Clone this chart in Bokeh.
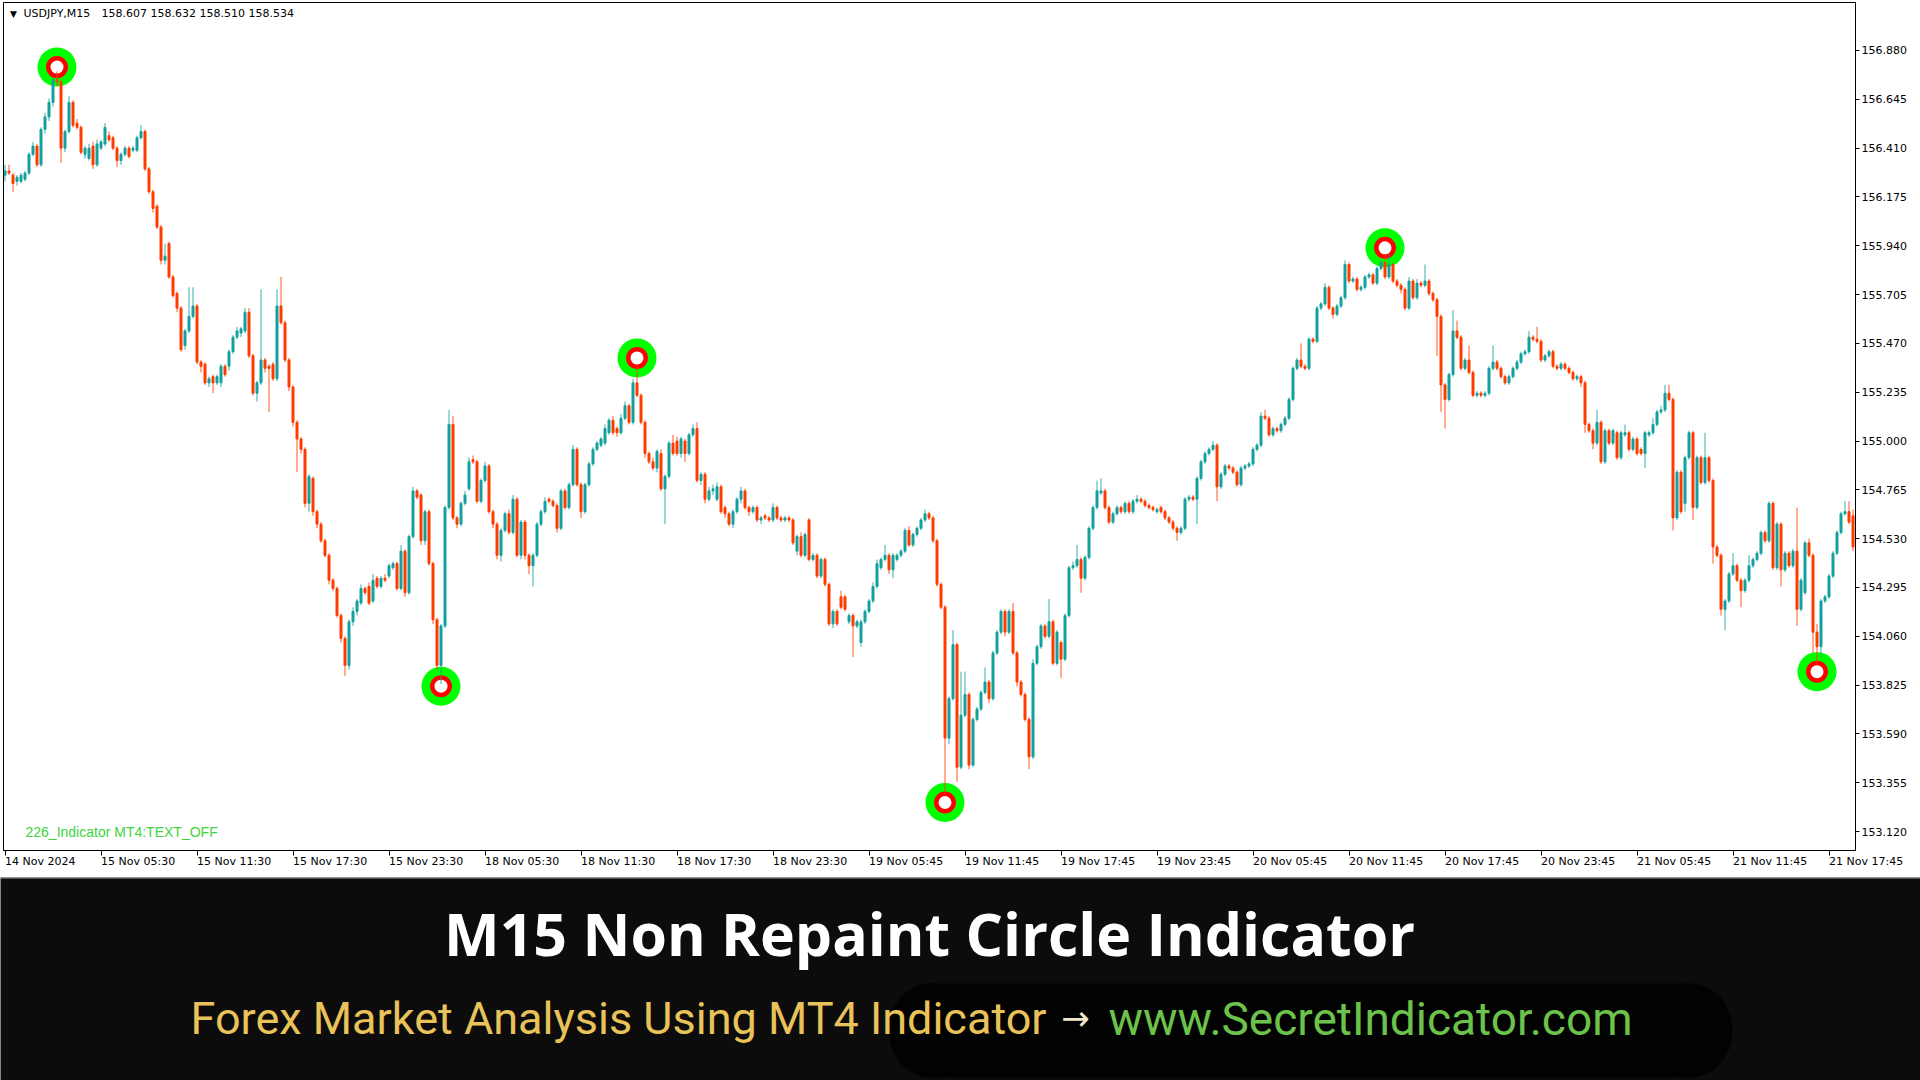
from bokeh.plotting import figure
from bokeh.models import (Range1d, LinearAxis, FixedTicker, NumeralTickFormatter,
                          Label, ColumnDataSource, Span)
from bokeh.layouts import column
from bokeh.embed import file_html
from bokeh.resources import INLINE
from bokeh.core.properties import value

# ---------------- texts ----------------
symbol_text = "USDJPY,M15"
header_ohlc = "158.607 158.632 158.510 158.534"
indicator_text = "226_Indicator MT4:TEXT_OFF"
title_text = "M15 Non Repaint Circle Indicator"
sub_left = "Forex Market Analysis Using MT4 Indicator"
sub_arrow = "\u2192"
sub_right = "www.SecretIndicator.com"

# ---------------- candle data (USDJPY M15) ----------------
opens = [
    156.28, 156.30, 156.28, 156.25, 156.25, 156.26, 156.29, 156.38, 156.42, 156.33,
    156.50, 156.56, 156.63, 156.74, 156.73, 156.41, 156.49, 156.63, 156.53, 156.51,
    156.38, 156.36, 156.42, 156.33, 156.41, 156.43, 156.47, 156.46, 156.41, 156.35,
    156.38, 156.41, 156.40, 156.40, 156.46, 156.49, 156.31, 156.20, 156.13, 156.03,
    155.87, 155.95, 155.79, 155.71, 155.64, 155.46, 155.53, 155.60, 155.65, 155.38,
    155.37, 155.28, 155.31, 155.28, 155.28, 155.36, 155.36, 155.43, 155.50, 155.52,
    155.53, 155.62, 155.41, 155.23, 155.28, 155.39, 155.36, 155.37, 155.30, 155.65,
    155.57, 155.39, 155.26, 155.09, 155.01, 154.96, 154.70, 154.82, 154.66, 154.60,
    154.52, 154.45, 154.33, 154.29, 154.16, 154.05, 153.92, 154.13, 154.18, 154.22,
    154.29, 154.30, 154.23, 154.34, 154.30, 154.34, 154.35, 154.39, 154.41, 154.29,
    154.47, 154.27, 154.54, 154.76, 154.74, 154.52, 154.66, 154.41, 154.14, 153.92,
    154.11, 154.68, 155.08, 154.63, 154.60, 154.70, 154.77, 154.91, 154.90, 154.71,
    154.81, 154.88, 154.66, 154.60, 154.45, 154.57, 154.65, 154.56, 154.72, 154.45,
    154.61, 154.45, 154.40, 154.45, 154.60, 154.66, 154.72, 154.71, 154.69, 154.58,
    154.76, 154.68, 154.79, 154.96, 154.79, 154.66, 154.79, 154.89, 154.96, 154.98,
    154.99, 155.04, 155.10, 155.06, 155.04, 155.11, 155.17, 155.09, 155.28, 155.22,
    155.09, 154.94, 154.90, 154.87, 154.94, 154.77, 154.83, 154.99, 155.00, 154.94,
    155.00, 154.94, 155.03, 155.06, 154.81, 154.84, 154.72, 154.76, 154.72, 154.78,
    154.68, 154.65, 154.60, 154.66, 154.72, 154.76, 154.68, 154.66, 154.68, 154.62,
    154.64, 154.63, 154.62, 154.68, 154.63, 154.62, 154.63, 154.62, 154.47, 154.54,
    154.45, 154.62, 154.43, 154.45, 154.35, 154.43, 154.31, 154.12, 154.18, 154.25,
    154.25, 154.13, 154.16, 154.11, 154.03, 154.13, 154.18, 154.23, 154.30, 154.39,
    154.43, 154.45, 154.38, 154.43, 154.45, 154.47, 154.57, 154.50, 154.55, 154.58,
    154.62, 154.65, 154.63, 154.52, 154.31, 154.20, 153.57, 153.76, 154.02, 153.43,
    153.68, 153.78, 153.44, 153.66, 153.71, 153.79, 153.84, 153.76, 153.98, 154.08,
    154.18, 154.08, 154.18, 153.98, 153.84, 153.78, 153.66, 153.48, 153.93, 154.01,
    154.11, 154.06, 154.13, 153.93, 154.03, 153.95, 154.16, 154.39, 154.40, 154.43,
    154.34, 154.44, 154.58, 154.68, 154.75, 154.76, 154.68, 154.61, 154.65, 154.68,
    154.66, 154.70, 154.66, 154.71, 154.72, 154.71, 154.69, 154.68, 154.66, 154.68,
    154.66, 154.63, 154.61, 154.58, 154.56, 154.58, 154.72, 154.73, 154.72, 154.82,
    154.90, 154.94, 154.96, 154.98, 154.78, 154.84, 154.88, 154.87, 154.85, 154.79,
    154.87, 154.88, 154.89, 154.96, 154.98, 155.12, 155.11, 155.03, 155.06, 155.05,
    155.08, 155.11, 155.20, 155.35, 155.39, 155.36, 155.35, 155.49, 155.48, 155.64,
    155.66, 155.74, 155.64, 155.61, 155.65, 155.69, 155.85, 155.77, 155.78, 155.73,
    155.74, 155.79, 155.80, 155.76, 155.83, 155.86, 155.79, 155.85, 155.77, 155.75,
    155.73, 155.64, 155.77, 155.69, 155.76, 155.75, 155.77, 155.71, 155.68, 155.60,
    155.27, 155.20, 155.32, 155.53, 155.50, 155.35, 155.39, 155.33, 155.22, 155.23,
    155.22, 155.23, 155.35, 155.38, 155.35, 155.31, 155.28, 155.31, 155.35, 155.38,
    155.42, 155.43, 155.50, 155.49, 155.48, 155.39, 155.41, 155.43, 155.36, 155.35,
    155.37, 155.35, 155.33, 155.30, 155.31, 155.28, 155.08, 155.05, 154.99, 155.09,
    154.90, 155.05, 154.99, 155.04, 154.92, 155.03, 155.04, 154.96, 155.01, 154.96,
    154.94, 155.03, 155.04, 155.08, 155.14, 155.15, 155.23, 155.20, 154.63, 154.85,
    154.70, 154.92, 155.04, 154.68, 154.92, 154.80, 154.92, 154.81, 154.49, 154.45,
    154.19, 154.23, 154.36, 154.40, 154.33, 154.28, 154.33, 154.40, 154.43, 154.46,
    154.56, 154.52, 154.70, 154.39, 154.60, 154.38, 154.46, 154.40, 154.47, 154.19,
    154.27, 154.51, 154.45, 154.08, 154.01, 154.23, 154.25, 154.35, 154.46, 154.56,
    154.65, 154.66, 154.64,
]
highs = [
    156.33, 156.33, 156.29, 156.28, 156.29, 156.30, 156.39, 156.44, 156.43, 156.51,
    156.58, 156.65, 156.75, 156.78, 156.74, 156.50, 156.66, 156.64, 156.55, 156.52,
    156.42, 156.43, 156.44, 156.45, 156.45, 156.53, 156.49, 156.47, 156.42, 156.39,
    156.42, 156.42, 156.42, 156.47, 156.52, 156.50, 156.32, 156.21, 156.14, 156.04,
    155.95, 155.96, 155.80, 155.72, 155.65, 155.54, 155.74, 155.74, 155.66, 155.39,
    155.38, 155.31, 155.32, 155.32, 155.37, 155.37, 155.44, 155.51, 155.55, 155.55,
    155.64, 155.64, 155.42, 155.29, 155.73, 155.40, 155.37, 155.38, 155.73, 155.79,
    155.58, 155.40, 155.27, 155.10, 155.02, 154.97, 154.84, 154.83, 154.67, 154.61,
    154.53, 154.46, 154.34, 154.30, 154.17, 154.06, 154.14, 154.20, 154.24, 154.31,
    154.30, 154.32, 154.36, 154.35, 154.35, 154.36, 154.41, 154.42, 154.42, 154.50,
    154.48, 154.55, 154.78, 154.77, 154.75, 154.67, 154.67, 154.42, 154.15, 154.12,
    154.69, 155.15, 155.12, 154.64, 154.71, 154.76, 154.92, 154.93, 154.91, 154.82,
    154.90, 154.89, 154.67, 154.61, 154.58, 154.66, 154.67, 154.74, 154.73, 154.62,
    154.62, 154.46, 154.46, 154.61, 154.67, 154.73, 154.73, 154.72, 154.70, 154.77,
    154.77, 154.80, 154.98, 154.97, 154.80, 154.80, 154.90, 154.97, 155.00, 155.02,
    155.08, 155.11, 155.12, 155.07, 155.13, 155.19, 155.18, 155.30, 155.36, 155.23,
    155.10, 154.95, 154.92, 154.96, 154.96, 154.84, 155.00, 155.03, 155.02, 155.02,
    155.01, 155.04, 155.08, 155.09, 154.85, 154.85, 154.78, 154.79, 154.80, 154.79,
    154.69, 154.66, 154.67, 154.73, 154.78, 154.77, 154.69, 154.69, 154.69, 154.64,
    154.65, 154.64, 154.70, 154.69, 154.64, 154.64, 154.64, 154.63, 154.55, 154.56,
    154.56, 154.63, 154.46, 154.46, 154.44, 154.44, 154.32, 154.19, 154.19, 154.28,
    154.26, 154.17, 154.17, 154.14, 154.14, 154.19, 154.24, 154.32, 154.43, 154.44,
    154.50, 154.46, 154.46, 154.46, 154.48, 154.58, 154.59, 154.56, 154.59, 154.63,
    154.67, 154.66, 154.64, 154.53, 154.32, 154.21, 153.77, 154.09, 154.03, 153.89,
    153.89, 153.79, 153.67, 153.72, 153.80, 153.91, 153.85, 153.99, 154.09, 154.19,
    154.19, 154.19, 154.22, 153.99, 153.85, 153.79, 153.67, 153.95, 154.02, 154.12,
    154.12, 154.24, 154.14, 154.09, 154.04, 154.17, 154.40, 154.42, 154.50, 154.44,
    154.45, 154.59, 154.69, 154.81, 154.82, 154.77, 154.69, 154.66, 154.69, 154.69,
    154.71, 154.71, 154.72, 154.74, 154.73, 154.72, 154.70, 154.69, 154.68, 154.69,
    154.67, 154.64, 154.62, 154.59, 154.59, 154.73, 154.74, 154.74, 154.83, 154.91,
    154.95, 154.97, 155.00, 154.99, 154.85, 154.89, 154.89, 154.88, 154.86, 154.88,
    154.89, 154.90, 154.97, 154.99, 155.14, 155.15, 155.12, 155.07, 155.07, 155.09,
    155.12, 155.21, 155.36, 155.40, 155.47, 155.37, 155.50, 155.50, 155.65, 155.67,
    155.76, 155.75, 155.65, 155.66, 155.70, 155.87, 155.86, 155.79, 155.79, 155.75,
    155.80, 155.81, 155.81, 155.84, 155.87, 155.90, 155.90, 155.86, 155.78, 155.76,
    155.74, 155.79, 155.78, 155.78, 155.77, 155.85, 155.78, 155.72, 155.69, 155.61,
    155.28, 155.33, 155.63, 155.58, 155.51, 155.40, 155.46, 155.34, 155.24, 155.24,
    155.24, 155.36, 155.46, 155.39, 155.36, 155.32, 155.32, 155.36, 155.39, 155.43,
    155.44, 155.53, 155.51, 155.55, 155.49, 155.42, 155.44, 155.44, 155.37, 155.38,
    155.38, 155.36, 155.34, 155.32, 155.32, 155.29, 155.09, 155.06, 155.15, 155.10,
    155.06, 155.06, 155.06, 155.05, 155.05, 155.08, 155.05, 155.02, 155.02, 154.97,
    155.05, 155.05, 155.11, 155.15, 155.17, 155.27, 155.27, 155.21, 154.86, 154.86,
    154.93, 155.05, 155.05, 154.93, 154.93, 155.04, 154.93, 154.82, 154.50, 154.46,
    154.24, 154.37, 154.46, 154.41, 154.34, 154.34, 154.45, 154.44, 154.47, 154.57,
    154.57, 154.71, 154.71, 154.61, 154.61, 154.47, 154.47, 154.48, 154.68, 154.34,
    154.52, 154.53, 154.46, 154.12, 154.24, 154.26, 154.36, 154.47, 154.57, 154.66,
    154.71, 154.71, 154.67,
]
lows = [
    156.25, 156.28, 156.20, 156.23, 156.24, 156.25, 156.28, 156.37, 156.32, 156.32,
    156.48, 156.54, 156.61, 156.71, 156.34, 156.39, 156.48, 156.51, 156.50, 156.38,
    156.36, 156.35, 156.31, 156.32, 156.40, 156.42, 156.44, 156.40, 156.32, 156.33,
    156.37, 156.36, 156.39, 156.39, 156.45, 156.30, 156.19, 156.10, 156.02, 155.85,
    155.85, 155.78, 155.69, 155.62, 155.43, 155.44, 155.52, 155.59, 155.37, 155.33,
    155.27, 155.26, 155.23, 155.27, 155.26, 155.31, 155.34, 155.42, 155.49, 155.50,
    155.52, 155.40, 155.22, 155.19, 155.27, 155.33, 155.14, 155.29, 155.29, 155.56,
    155.38, 155.24, 155.07, 154.85, 154.94, 154.68, 154.66, 154.64, 154.58, 154.51,
    154.44, 154.31, 154.28, 154.15, 154.03, 153.87, 153.90, 154.11, 154.16, 154.21,
    154.26, 154.21, 154.22, 154.29, 154.29, 154.32, 154.34, 154.38, 154.28, 154.28,
    154.25, 154.26, 154.53, 154.72, 154.50, 154.50, 154.40, 154.12, 153.90, 153.83,
    154.10, 154.67, 154.62, 154.58, 154.59, 154.69, 154.76, 154.89, 154.70, 154.70,
    154.80, 154.65, 154.58, 154.43, 154.42, 154.56, 154.55, 154.55, 154.44, 154.43,
    154.43, 154.36, 154.30, 154.44, 154.59, 154.65, 154.70, 154.68, 154.56, 154.57,
    154.67, 154.67, 154.78, 154.78, 154.63, 154.65, 154.78, 154.88, 154.95, 154.97,
    154.98, 155.03, 155.03, 155.02, 155.03, 155.10, 155.08, 155.08, 155.21, 155.08,
    154.92, 154.89, 154.86, 154.85, 154.76, 154.60, 154.82, 154.93, 154.93, 154.92,
    154.90, 154.93, 155.02, 154.80, 154.79, 154.70, 154.71, 154.74, 154.71, 154.65,
    154.63, 154.59, 154.58, 154.65, 154.70, 154.67, 154.64, 154.65, 154.61, 154.60,
    154.62, 154.61, 154.61, 154.62, 154.61, 154.61, 154.61, 154.50, 154.45, 154.44,
    154.44, 154.42, 154.42, 154.34, 154.34, 154.30, 154.11, 154.10, 154.11, 154.19,
    154.18, 154.12, 153.96, 154.10, 154.01, 154.12, 154.17, 154.22, 154.29, 154.38,
    154.42, 154.36, 154.34, 154.42, 154.44, 154.46, 154.49, 154.49, 154.54, 154.57,
    154.61, 154.62, 154.51, 154.30, 154.19, 153.30, 153.54, 153.75, 153.36, 153.42,
    153.67, 153.42, 153.43, 153.65, 153.70, 153.78, 153.74, 153.75, 153.97, 154.07,
    154.06, 154.07, 153.97, 153.82, 153.77, 153.65, 153.42, 153.47, 153.92, 154.00,
    154.05, 154.05, 153.92, 153.92, 153.86, 153.94, 154.15, 154.38, 154.39, 154.27,
    154.33, 154.43, 154.57, 154.67, 154.74, 154.67, 154.60, 154.60, 154.64, 154.65,
    154.65, 154.65, 154.65, 154.70, 154.70, 154.68, 154.67, 154.66, 154.65, 154.65,
    154.62, 154.60, 154.57, 154.52, 154.55, 154.57, 154.71, 154.71, 154.60, 154.81,
    154.89, 154.93, 154.95, 154.71, 154.77, 154.83, 154.86, 154.84, 154.78, 154.78,
    154.86, 154.87, 154.88, 154.95, 154.97, 155.10, 155.02, 155.02, 155.04, 155.04,
    155.07, 155.10, 155.19, 155.34, 155.35, 155.34, 155.34, 155.47, 155.47, 155.63,
    155.65, 155.63, 155.59, 155.60, 155.64, 155.68, 155.76, 155.76, 155.72, 155.72,
    155.73, 155.78, 155.75, 155.75, 155.82, 155.78, 155.78, 155.76, 155.74, 155.71,
    155.63, 155.63, 155.68, 155.68, 155.74, 155.74, 155.70, 155.67, 155.41, 155.14,
    155.06, 155.19, 155.31, 155.49, 155.34, 155.34, 155.32, 155.21, 155.21, 155.21,
    155.21, 155.22, 155.34, 155.34, 155.30, 155.27, 155.27, 155.30, 155.34, 155.37,
    155.41, 155.42, 155.48, 155.47, 155.38, 155.38, 155.40, 155.35, 155.34, 155.34,
    155.34, 155.32, 155.29, 155.29, 155.26, 155.04, 155.04, 154.96, 154.98, 154.89,
    154.89, 154.98, 154.98, 154.91, 154.91, 155.02, 154.95, 154.95, 154.93, 154.93,
    154.87, 155.02, 155.03, 155.07, 155.13, 155.14, 155.19, 154.57, 154.62, 154.65,
    154.66, 154.91, 154.62, 154.67, 154.79, 154.79, 154.80, 154.41, 154.44, 154.16,
    154.09, 154.22, 154.35, 154.32, 154.20, 154.27, 154.32, 154.39, 154.42, 154.45,
    154.51, 154.51, 154.38, 154.38, 154.30, 154.37, 154.39, 154.39, 154.11, 154.18,
    154.26, 154.44, 153.98, 153.92, 153.96, 154.22, 154.24, 154.34, 154.45, 154.55,
    154.64, 154.60, 154.47,
]
closes = [
    156.30, 156.29, 156.24, 156.27, 156.28, 156.29, 156.38, 156.42, 156.33, 156.50,
    156.56, 156.63, 156.74, 156.73, 156.41, 156.49, 156.63, 156.52, 156.51, 156.39,
    156.41, 156.41, 156.33, 156.43, 156.44, 156.51, 156.45, 156.41, 156.35, 156.38,
    156.41, 156.37, 156.41, 156.46, 156.49, 156.31, 156.20, 156.12, 156.03, 155.87,
    155.89, 155.79, 155.70, 155.64, 155.44, 155.53, 155.60, 155.65, 155.38, 155.36,
    155.28, 155.30, 155.28, 155.31, 155.36, 155.32, 155.43, 155.50, 155.53, 155.54,
    155.62, 155.41, 155.23, 155.28, 155.39, 155.35, 155.35, 155.30, 155.65, 155.57,
    155.39, 155.26, 155.09, 155.01, 154.96, 154.70, 154.83, 154.66, 154.60, 154.52,
    154.45, 154.33, 154.29, 154.16, 154.05, 153.92, 154.13, 154.18, 154.23, 154.29,
    154.27, 154.22, 154.33, 154.30, 154.34, 154.33, 154.40, 154.41, 154.29, 154.47,
    154.27, 154.54, 154.76, 154.73, 154.52, 154.66, 154.41, 154.14, 153.92, 154.11,
    154.68, 155.08, 154.63, 154.60, 154.70, 154.74, 154.90, 154.90, 154.71, 154.81,
    154.88, 154.66, 154.60, 154.45, 154.57, 154.65, 154.56, 154.72, 154.45, 154.61,
    154.45, 154.40, 154.45, 154.60, 154.66, 154.71, 154.71, 154.69, 154.58, 154.76,
    154.68, 154.79, 154.96, 154.79, 154.66, 154.79, 154.89, 154.96, 154.99, 155.01,
    155.06, 155.10, 155.04, 155.04, 155.11, 155.17, 155.09, 155.28, 155.22, 155.09,
    154.94, 154.90, 154.87, 154.95, 154.77, 154.83, 154.99, 154.94, 154.94, 155.01,
    154.94, 155.03, 155.06, 154.81, 154.84, 154.72, 154.76, 154.77, 154.78, 154.66,
    154.65, 154.60, 154.66, 154.72, 154.76, 154.68, 154.66, 154.68, 154.62, 154.63,
    154.63, 154.62, 154.68, 154.63, 154.62, 154.63, 154.62, 154.51, 154.54, 154.45,
    154.55, 154.43, 154.45, 154.35, 154.43, 154.31, 154.12, 154.18, 154.12, 154.20,
    154.19, 154.16, 154.11, 154.13, 154.13, 154.18, 154.23, 154.30, 154.41, 154.43,
    154.45, 154.38, 154.45, 154.45, 154.47, 154.57, 154.50, 154.55, 154.58, 154.62,
    154.65, 154.63, 154.52, 154.31, 154.20, 153.57, 153.76, 154.02, 153.43, 153.68,
    153.78, 153.44, 153.66, 153.71, 153.79, 153.84, 153.76, 153.98, 154.08, 154.18,
    154.08, 154.18, 153.98, 153.84, 153.78, 153.66, 153.48, 153.93, 154.01, 154.11,
    154.06, 154.13, 153.93, 154.08, 153.95, 154.16, 154.39, 154.40, 154.43, 154.34,
    154.44, 154.58, 154.68, 154.76, 154.76, 154.68, 154.61, 154.65, 154.68, 154.66,
    154.70, 154.66, 154.71, 154.72, 154.71, 154.69, 154.68, 154.67, 154.67, 154.66,
    154.63, 154.61, 154.58, 154.56, 154.58, 154.72, 154.73, 154.72, 154.82, 154.90,
    154.94, 154.96, 154.98, 154.78, 154.84, 154.88, 154.87, 154.85, 154.79, 154.87,
    154.88, 154.89, 154.96, 154.98, 155.12, 155.11, 155.03, 155.06, 155.05, 155.08,
    155.11, 155.20, 155.35, 155.39, 155.36, 155.35, 155.49, 155.48, 155.64, 155.66,
    155.74, 155.64, 155.61, 155.65, 155.69, 155.85, 155.77, 155.78, 155.73, 155.74,
    155.79, 155.80, 155.76, 155.83, 155.86, 155.79, 155.85, 155.77, 155.75, 155.73,
    155.64, 155.77, 155.69, 155.76, 155.75, 155.77, 155.71, 155.68, 155.60, 155.27,
    155.20, 155.32, 155.53, 155.50, 155.35, 155.39, 155.33, 155.22, 155.23, 155.22,
    155.23, 155.35, 155.38, 155.35, 155.31, 155.28, 155.31, 155.35, 155.38, 155.42,
    155.43, 155.50, 155.49, 155.48, 155.39, 155.41, 155.43, 155.36, 155.35, 155.37,
    155.35, 155.33, 155.30, 155.31, 155.28, 155.08, 155.05, 154.99, 155.09, 154.90,
    155.05, 154.99, 155.05, 154.92, 155.04, 155.04, 154.96, 155.01, 154.94, 154.94,
    155.04, 155.04, 155.08, 155.14, 155.15, 155.23, 155.20, 154.63, 154.85, 154.66,
    154.92, 155.04, 154.68, 154.92, 154.80, 154.92, 154.81, 154.49, 154.45, 154.19,
    154.23, 154.36, 154.40, 154.33, 154.28, 154.33, 154.40, 154.43, 154.46, 154.56,
    154.52, 154.70, 154.39, 154.60, 154.38, 154.46, 154.40, 154.47, 154.19, 154.33,
    154.51, 154.45, 154.08, 154.01, 154.23, 154.25, 154.35, 154.46, 154.56, 154.65,
    154.66, 154.61, 154.49,
]

# circle indicator signals (bar index, price of the circle centre)
signal_bars = [13, 109, 158, 235, 345, 453]
signal_prices = [156.80, 153.82, 155.40, 153.26, 155.93, 153.89]

# axes
time_tick_bars = [0, 24, 48, 72, 96, 120, 144, 168, 192, 216,
                  240, 264, 288, 312, 336, 360, 384, 408, 432, 456]
time_tick_labels = ["14 Nov 2024", "15 Nov 05:30", "15 Nov 11:30", "15 Nov 17:30",
                    "15 Nov 23:30", "18 Nov 05:30", "18 Nov 11:30", "18 Nov 17:30",
                    "18 Nov 23:30", "19 Nov 05:45", "19 Nov 11:45", "19 Nov 17:45",
                    "19 Nov 23:45", "20 Nov 05:45", "20 Nov 11:45", "20 Nov 17:45",
                    "20 Nov 23:45", "21 Nov 05:45", "21 Nov 11:45", "21 Nov 17:45"]
price_ticks = [153.120, 153.355, 153.590, 153.825, 154.060, 154.295, 154.530,
               154.765, 155.000, 155.235, 155.470, 155.705, 155.940, 156.175,
               156.410, 156.645, 156.880]

# ---------------- styling ----------------
BULL = "#13a19c"
BEAR = "#ff3c00"
AXIS_FONT = "DejaVu Sans"
BANNER_BG = "#0c0c0c"
CHART_H = 877
BANNER_H = 1080 - CHART_H

n = min(len(opens), len(highs), len(lows), len(closes))
idx = list(range(n))
colors = [BULL if closes[i] >= opens[i] else BEAR for i in idx]
tops = [max(opens[i], closes[i]) for i in idx]
bottoms = [min(opens[i], closes[i]) for i in idx]

src = ColumnDataSource(dict(x=idx, h=highs[:n], l=lows[:n], top=tops,
                            bottom=bottoms, color=colors))

p = figure(width=1920, height=CHART_H,
           x_range=Range1d(-0.375, 462.625), y_range=Range1d(153.029, 157.111),
           x_axis_type=None, y_axis_type=None, toolbar_location=None,
           output_backend="svg",
           min_border_left=3, min_border_right=65, min_border_top=2,
           min_border_bottom=26,
           background_fill_color="white", border_fill_color="white",
           outline_line_color="black", outline_line_width=1)
for g in p.grid:
    g.visible = False

# right price axis
yax = LinearAxis(ticker=FixedTicker(ticks=price_ticks, minor_ticks=[]),
                 formatter=NumeralTickFormatter(format="0.000"),
                 major_tick_out=4, major_tick_in=0, minor_tick_out=0, minor_tick_in=0,
                 axis_line_color="black", major_tick_line_color="black",
                 major_label_standoff=2, major_label_text_font=AXIS_FONT,
                 major_label_text_font_size="11px", major_label_text_color="#000000")
p.add_layout(yax, "right")

# bottom time axis: a tiny negative orientation makes labels start at their tick
xax = LinearAxis(ticker=FixedTicker(ticks=time_tick_bars, minor_ticks=[]),
                 major_label_overrides={t: s for t, s in zip(time_tick_bars, time_tick_labels)},
                 major_label_orientation=-0.000001,
                 major_tick_out=5, major_tick_in=0, minor_tick_out=0, minor_tick_in=0,
                 axis_line_color="black", major_tick_line_color="black",
                 major_label_standoff=6, major_label_text_font=AXIS_FONT,
                 major_label_text_font_size="11px", major_label_text_color="#000000")
p.add_layout(xax, "below")

# circle indicator (drawn beneath the candles)
ssrc = ColumnDataSource(dict(x=signal_bars, y=signal_prices))
p.scatter("x", "y", source=ssrc, size=39, fill_color="#00ff00", line_color=None)
p.scatter("x", "y", source=ssrc, size=22, fill_color="#ff0000", line_color=None)
p.scatter("x", "y", source=ssrc, size=13, fill_color="#ffffff", line_color=None)

# candles
p.segment(x0="x", y0="l", x1="x", y1="h", source=src, line_color="color",
          line_width=1, line_alpha=0.85)
p.vbar(x="x", width=0.5, top="top", bottom="bottom", source=src,
       fill_color="color", line_color="color", line_width=1)

# header and indicator labels
p.add_layout(Label(x=10, y=837, x_units="screen", y_units="screen", text="\u25bc",
                   text_font=AXIS_FONT, text_font_size="9px", text_color="#000000",
                   text_align="center", text_baseline="middle"))
p.add_layout(Label(x=20, y=837, x_units="screen", y_units="screen", text=symbol_text,
                   text_font=AXIS_FONT, text_font_size="11px", text_color="#000000",
                   text_align="left", text_baseline="middle"))
p.add_layout(Label(x=98, y=837, x_units="screen", y_units="screen", text=header_ohlc,
                   text_font=AXIS_FONT, text_font_size="11px", text_color="#000000",
                   text_align="left", text_baseline="middle"))
p.add_layout(Label(x=22, y=19, x_units="screen", y_units="screen", text=indicator_text,
                   text_font="Liberation Sans", text_font_size="14px",
                   text_color="#3ed43e", text_align="left", text_baseline="middle"))

# ---------------- banner ----------------
b = figure(width=1920, height=BANNER_H, x_range=Range1d(0, 1920),
           y_range=Range1d(BANNER_H, 0),
           x_axis_type=None, y_axis_type=None, toolbar_location=None,
           output_backend="svg", min_border=0,
           background_fill_color=BANNER_BG, border_fill_color=BANNER_BG,
           outline_line_color=None)
for g in b.grid:
    g.visible = False

# keep each figure's frame independent inside the column
for fig in (p, b):
    try:
        fig.frame_align = False
    except Exception:
        pass

b.rect(x=[1310], y=[153], width=[760], height=[94], fill_color="#020202", line_color=None)
b.ellipse(x=[930, 1690], y=[153, 153], width=[84, 84], height=[94, 94],
          fill_color="#020202", line_color=None)
b.add_layout(Span(location=0, dimension="width", line_color="#a0a0a0", line_width=2))

b.text(x=[929], y=[55], text=[title_text], text_font=value("Open Sans"),
       text_font_style="bold", text_font_size="59px", text_color="#ffffff",
       text_align="center", text_baseline="middle")
b.text(x=[190], y=[141], text=[sub_left], text_font=value("Roboto"),
       text_font_size="45px", text_color="#e9c25a",
       text_align="left", text_baseline="middle")
b.text(x=[1075], y=[140], text=[sub_arrow], text_font=value("DejaVu Sans"),
       text_font_size="34px", text_color="#f2e6c8",
       text_align="center", text_baseline="middle")
b.text(x=[1632], y=[141], text=[sub_right], text_font=value("Roboto"),
       text_font_size="46px", text_color="#6cc24a",
       text_align="right", text_baseline="middle")

layout = column(p, b, spacing=0)
open("out.html", "w").write(file_html(layout, INLINE))
